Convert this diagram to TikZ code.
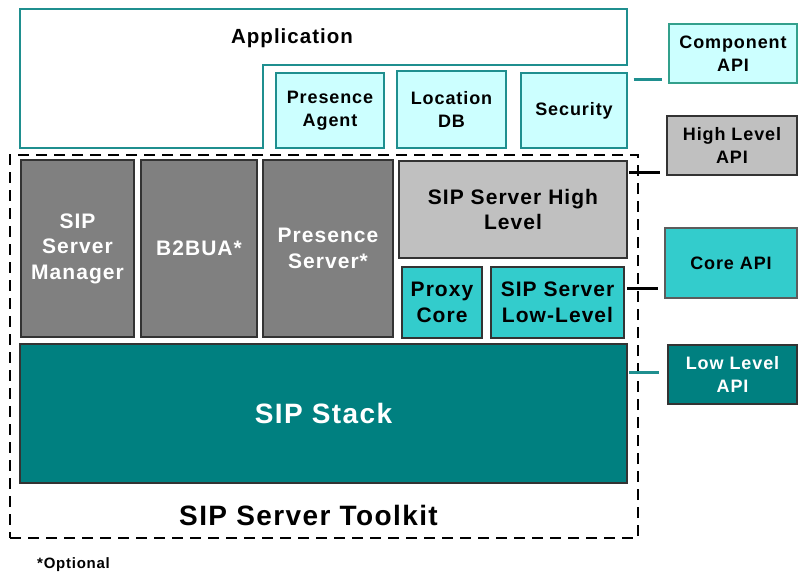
\documentclass[tikz,border=0pt]{standalone}
\usepackage{fontspec}
\setmainfont{Liberation Sans}[LetterSpace=5]
\usetikzlibrary{positioning}

\definecolor{cyanfill}{HTML}{CCFFFF}
\definecolor{tealline}{HTML}{1F8F8F}
\definecolor{compline}{HTML}{33A08C}
\definecolor{midgray}{HTML}{808080}
\definecolor{lightgray}{HTML}{C0C0C0}
\definecolor{turq}{HTML}{33CCCC}
\definecolor{tealfill}{HTML}{008080}
\definecolor{edge}{HTML}{333333}

\tikzset{
  box/.style={draw=edge, rectangle, inner sep=0pt, align=center, line width=1.3pt,
    font=\bfseries\fontsize{21}{25.5}\selectfont},
  comp/.style={box, fill=cyanfill, draw=tealline, line width=1.2pt,
    font=\bfseries\fontsize{18}{23}\selectfont},
  apibox/.style={box, font=\bfseries\fontsize{18}{23}\selectfont},
  darkbox/.style={box, fill=midgray, text=white},
  lightbox/.style={box, fill=lightgray},
  turqbox/.style={box, fill=turq},
  stackbox/.style={box, fill=tealfill, text=white},
  toolkit/.style={draw=black, rectangle, line width=1.7pt, dash pattern=on 11pt off 7pt, inner sep=0pt},
  tick/.style={line width=3pt},
  lbl/.style={inner sep=0pt, font=\bfseries\fontsize{20.5}{24}\selectfont}
}

\begin{document}
\begin{tikzpicture}[x=1pt, y=-1pt]
\useasboundingbox (0,0) rectangle (799,572);

% application frame with its notch
\draw[tealline, line width=1.2pt] (20,9) -- (627,9) -- (627,65) -- (263,65) -- (263,148) -- (20,148) -- cycle;
\node[lbl] (app) at (292,38.5) {Application};

% component boxes
\node[comp, minimum width=108pt, minimum height=75pt] (pagent) at (330,110.5) {Presence\\Agent};
\node[comp, minimum width=109pt, minimum height=77pt] (locdb) at (451.5,109.5) {Location\\DB};
\node[comp, minimum width=106pt, minimum height=75pt] (secur) at (574,110.5) {Security};

% toolkit frame
\node[toolkit, minimum width=628pt, minimum height=383pt] (kit) at (324,346.5) {};

% toolkit components
\node[darkbox, minimum width=113pt, minimum height=177pt] (mgr) at (77.5,248.5) {SIP\\Server\\Manager};
\node[darkbox, minimum width=116pt, minimum height=177pt] (b2bua) at (199,248.5) {B2BUA*};
\node[darkbox, minimum width=130pt, minimum height=177pt] (pserver) at (328,248.5) {Presence\\Server*};
\node[lightbox, minimum width=228pt, minimum height=97pt] (shigh) at (513,209.5) {SIP Server High\\Level};
\node[turqbox, minimum width=80pt, minimum height=71pt] (proxy) at (442,302.5) {Proxy\\Core};
\node[turqbox, minimum width=133pt, minimum height=71pt] (slow) at (557.5,302.5) {SIP Server\\Low-Level};
\node[stackbox, minimum width=607pt, minimum height=139pt,
      font=\bfseries\fontsize{28}{32}\selectfont] (stack) at (323.5,413.5) {SIP Stack};

\node[inner sep=0pt, font=\bfseries\fontsize{28}{32}\selectfont] (kitlbl) at (308.5,515) {SIP Server Toolkit};
\node[inner sep=0pt, anchor=west, font=\bfseries\fontsize{15}{18}\selectfont] (opt) at (37,565) {*Optional};

% API boxes
\node[comp, draw=compline, minimum width=128pt, minimum height=59pt] (compapi) at (733,53.5) {Component\\API};
\node[apibox, fill=lightgray, draw=edge, minimum width=130pt, minimum height=59pt] (hlapi) at (732,145.5) {High Level\\API};
\node[apibox, fill=turq, draw=edge!80, minimum width=132pt, minimum height=70pt] (coreapi) at (731,263) {Core API};
\node[apibox, fill=tealfill, text=white, minimum width=129pt, minimum height=59pt] (llapi) at (732.5,374.5) {Low Level\\API};

% API ticks
\draw[tick, tealline, shorten <=6pt, shorten >=6pt] (secur.east |- 0,80) -- (compapi.west |- 0,80);
\coordinate (hl1) at (629,172);
\coordinate (hl2) at (660,172);
\draw[tick, black] (hl1) -- (hl2);
\coordinate (co1) at (627,288);
\coordinate (co2) at (658,288);
\draw[tick, black] (co1) -- (co2);
\coordinate (ll1) at (629,372);
\coordinate (ll2) at (659,372);
\draw[tick, tealline] (ll1) -- (ll2);
\end{tikzpicture}
\end{document}
